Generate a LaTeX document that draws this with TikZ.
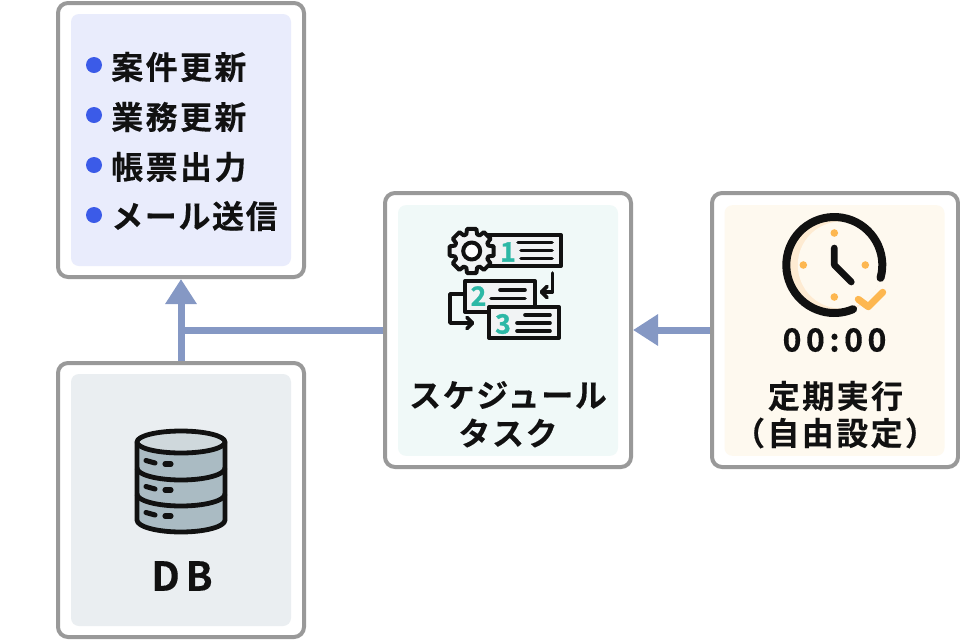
\documentclass[tikz,border=0pt]{standalone}
\usepackage{fontspec}
\usetikzlibrary{arrows.meta}
\setmainfont{Noto Sans CJK JP}[BoldFont={Noto Sans CJK JP Bold}]
\newfontfamily\jpb{Noto Sans CJK JP Bold}[LetterSpace=5,FakeBold=0.25]
\newfontfamily\jpk{Noto Sans CJK JP Bold}[LetterSpace=7.5,FakeBold=0.25]
\newfontfamily\jpd{Noto Sans CJK JP Bold}[LetterSpace=14,FakeBold=0.25]
\newfontfamily\jpn{Noto Sans CJK JP Bold}[FakeBold=1.2]
\definecolor{edge}{HTML}{999999}
\definecolor{flow}{HTML}{8598C4}
\definecolor{inkc}{HTML}{111111}
\definecolor{listbg}{HTML}{E9ECFC}
\definecolor{dbbg}{HTML}{EAEEF1}
\definecolor{taskbg}{HTML}{F0F9F8}
\definecolor{timebg}{HTML}{FEF9EF}
\definecolor{bullet}{HTML}{3B5BE8}
\definecolor{teal}{HTML}{2DB8A6}
\definecolor{amber}{HTML}{FDB750}
\definecolor{peach}{HTML}{FEEBD2}
\definecolor{dbbody}{HTML}{AABBC3}
\definecolor{dbtop}{HTML}{CFD8DC}
\definecolor{paper}{HTML}{F1F3F4}
\tikzset{
  x=0.75pt,y=-0.75pt,
  outerbox/.style={draw=edge,line width=3pt,fill=white,rounded corners=7.5pt,minimum width=184.5pt,minimum height=205.5pt,inner sep=0pt},
  innerbox/.style={rounded corners=6pt,minimum width=165pt,inner sep=0pt},
  flowline/.style={draw=flow,line width=5.25pt},
  flowarrow/.style={flowline,-{Triangle[length=18.75pt,width=22.5pt]}},
  label/.style={text=inkc,font=\jpb\fontsize{24pt}{28pt}\selectfont,inner sep=0pt},
  klabel/.style={text=inkc,font=\jpk\fontsize{24pt}{28pt}\selectfont,inner sep=0pt},
  listlabel/.style={klabel,anchor=west},
  dot/.style={circle,fill=bullet,minimum size=12pt,inner sep=0pt},
  ico/.style={draw=inkc,line width=3pt,line join=round},
  dbico/.style={draw=inkc,line width=3.6pt,line join=round},
  icoline/.style={draw=inkc,line width=2.7pt,line cap=round},
  num/.style={text=teal,font=\jpn\fontsize{20pt}{22pt}\selectfont,inner sep=0pt},
}
\begin{document}
\begin{tikzpicture}
\useasboundingbox (0,0) rectangle (960,640);
\node[outerbox] (list) at (181,140) {};
\node[outerbox] (db) at (181,500) {};
\node[outerbox] (task) at (508,330) {};
\node[outerbox] (time) at (835,330) {};
\node[innerbox,fill=listbg,minimum height=189pt] (listin) at (181,140) {};
\node[innerbox,fill=dbbg,minimum height=189pt] (dbin) at (181,500) {};
\node[innerbox,fill=taskbg,minimum height=188pt] (taskin) at (508,330.5) {};
\node[innerbox,fill=timebg,minimum height=188pt] (timein) at (834.5,330.5) {};
\draw[flowarrow] (db.north) -- (list.south);
\draw[flowline] (task.west) -- (task.west -| db.north);
\draw[flowarrow] (time.west) -- (task.east);
% list
\node[dot] (d1) at (94,65) {};
\node[dot] (d2) at (94,115) {};
\node[dot] (d3) at (94,165) {};
\node[dot] (d4) at (94,215) {};
\node[listlabel] (l1) at (111,67) {案件更新};
\node[listlabel] (l2) at (111,117) {業務更新};
\node[listlabel] (l3) at (111,167) {帳票出力};
\node[label,anchor=west] (l4) at (111,216) {メール送信};
% labels
\node[label] (t1) at (508,395) {スケジュール};
\node[label] (t2) at (508,433) {タスク};
\node[klabel] (c1) at (835.5,396) {定期実行};
\node[klabel] (c2) at (835,433) {（自由設定）};
\node[label,font=\jpd\fontsize{30pt}{32pt}\selectfont] (dbl) at (182,576) {DB};
\node[label,font=\jpd\fontsize{24pt}{28pt}\selectfont] (clk) at (834.5,340) {00:00};
% DB icon
\begin{scope}[shift={(181,442)}]
\path[dbico,fill=dbbody] (-44,0) -- (-44,78) arc[start angle=180,end angle=360,x radius=44,y radius=-12] -- (44,0) -- cycle;
\foreach \yy in {26,52} \draw[dbico] (-44,\yy) arc[start angle=180,end angle=360,x radius=44,y radius=-12];
\path[dbico,fill=dbtop] (0,0) ellipse[x radius=44,y radius=11];
\foreach \yy in {0,26,52} {
 \draw[icoline,line width=3.8pt] (-35,{\yy+18.5}) -- (-26,{\yy+21});
 \draw[icoline,line width=3.8pt] (-16,{\yy+22}) -- (-10,{\yy+22});
}
\end{scope}
% Task icon
\path[ico,fill=paper] (488,235) rectangle (561,266);
\path[ico,fill=paper] (465,281) rectangle (535,312);
\path[ico,fill=paper] (489,307) rectangle (559,338);
\begin{scope}[shift={(471.7,251)}]
\path[ico,fill=paper] (-12:22.5)
 \foreach \a in {0,45,...,315} {
  -- ({\a-12}:22.5) -- ({\a+12}:22.5) -- ({\a+18}:17.5) -- ({\a+27}:17.5)
 } -- cycle;
\path[ico,fill=white] (0,0) circle[radius=8.5];
\end{scope}
\node[num] (n1) at (508,252) {1};
\node[num] (n2) at (478.5,296) {2};
\node[num] (n3) at (503,324) {3};
\foreach \a/\b/\c in {518/552/242.5,521/552/250.5,521/552/258.5,500/525/290,491/525/298.5,525/550/315,517/550/323,517/550/331}
 \draw[icoline] (\a,\c) -- (\b,\c);
\draw[icoline,line join=round] (552.5,273) -- (552.5,292) -- (542,292);
\draw[icoline,line join=round] (547,286.5) -- (541.5,292) -- (547,297.5);
\draw[icoline,line join=round] (465,294) -- (450,294) -- (450,323) -- (472,323);
\draw[icoline,line join=round] (467,317.5) -- (472.5,323) -- (467,328.5);
% clock
\begin{scope}[shift={(834.3,265)}]
\begin{scope}
\clip (0,0) circle[radius=48];
\fill[peach] (0,0) circle[radius=48];
\fill[timebg] (7,0) circle[radius=43.5];
\end{scope}
\draw[draw=inkc,line width=6pt,line cap=round] (15.5:48) arc[start angle=15.5,end angle=-293,radius=48];
\foreach \p in {(0,-32),(0,32),(-31,0),(31,0)} \fill[amber] \p circle[radius=3.8];
\draw[icoline,line width=5pt,line join=round] (0,-17) -- (0,0) -- (17,17);
\draw[draw=amber,line width=5.25pt,line cap=round,line join=round] (24,34.3) -- (34,41.7) -- (48.4,27.3);
\end{scope}
\end{tikzpicture}
\end{document}
